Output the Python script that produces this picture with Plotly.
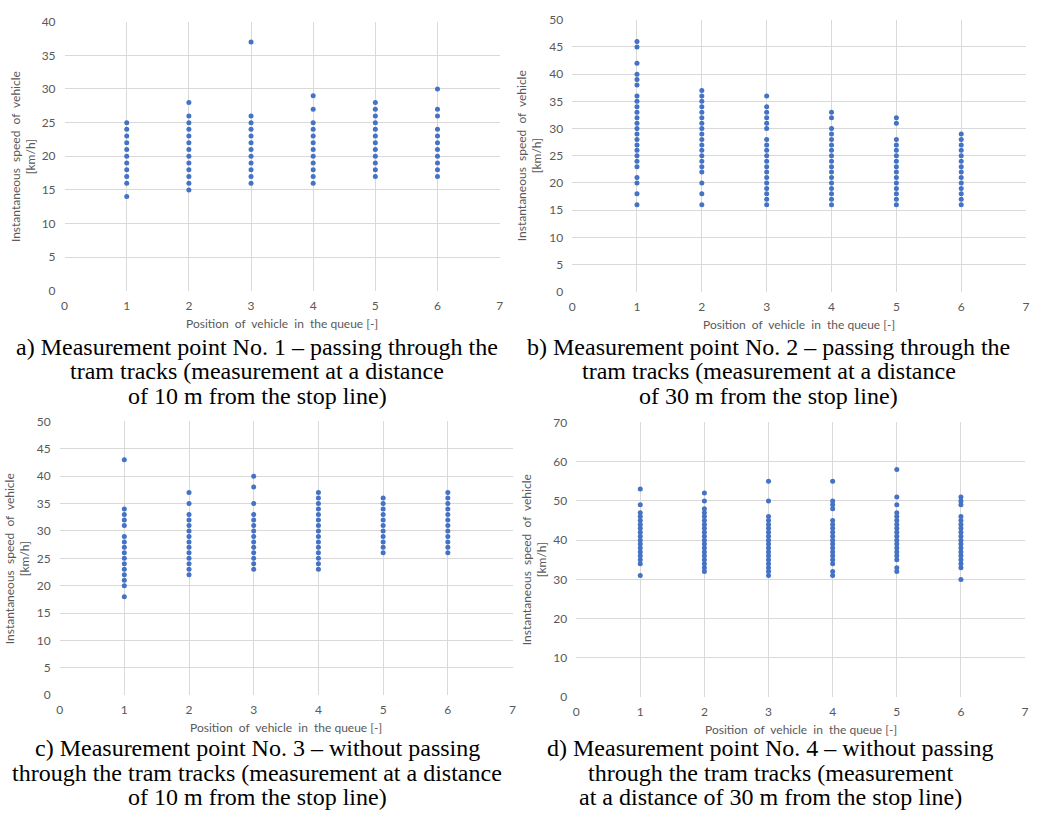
import plotly.graph_objects as go

# Instantaneous speed [km/h] by position of vehicle in the queue (1..6)
positions = [1, 2, 3, 4, 5, 6]

speeds_mp1 = [
    [14, 16, 17, 18, 19, 20, 21, 22, 23, 24, 25],
    [15, 16, 17, 18, 19, 20, 21, 22, 23, 24, 25, 26, 28],
    [16, 17, 18, 19, 20, 21, 22, 23, 24, 25, 26, 37],
    [16, 17, 18, 19, 20, 21, 22, 23, 24, 25, 27, 29],
    [17, 18, 19, 20, 21, 22, 23, 24, 25, 26, 27, 28],
    [17, 18, 19, 20, 21, 22, 23, 24, 26, 27, 30],
]

speeds_mp2 = [
    [16, 18, 20, 21, 23, 24, 25, 26, 27, 28, 29, 30, 31, 32, 33, 34, 35, 36, 38, 39, 40, 42, 45, 46],
    [16, 18, 20, 22, 23, 24, 25, 26, 27, 28, 29, 30, 31, 32, 33, 34, 35, 36, 37],
    [16, 17, 18, 19, 20, 21, 22, 23, 24, 25, 26, 27, 28, 30, 31, 32, 33, 34, 36],
    [16, 17, 18, 19, 20, 21, 22, 23, 24, 25, 26, 27, 28, 29, 30, 32, 33],
    [16, 17, 18, 19, 20, 21, 22, 23, 24, 25, 26, 27, 28, 31, 32],
    [16, 17, 18, 19, 20, 21, 22, 23, 24, 25, 26, 27, 28, 29],
]

speeds_mp3 = [
    [18, 20, 21, 22, 23, 24, 25, 26, 27, 28, 29, 31, 32, 33, 34, 43],
    [22, 23, 24, 25, 26, 27, 28, 29, 30, 31, 32, 33, 35, 37],
    [23, 24, 25, 26, 27, 28, 29, 30, 31, 32, 33, 35, 38, 40],
    [23, 24, 25, 26, 27, 28, 29, 30, 31, 32, 33, 34, 35, 36, 37],
    [26, 27, 28, 29, 30, 31, 32, 33, 34, 35, 36],
    [26, 27, 28, 29, 30, 31, 32, 33, 34, 35, 36, 37],
]

speeds_mp4 = [
    [31, 34, 35, 36, 37, 38, 39, 40, 41, 42, 43, 44, 45, 46, 47, 49, 53],
    [32, 33, 34, 35, 36, 37, 38, 39, 40, 41, 42, 43, 44, 45, 46, 47, 48, 50, 52],
    [31, 32, 33, 34, 35, 36, 37, 38, 39, 40, 41, 42, 43, 44, 45, 46, 50, 55],
    [31, 32, 34, 35, 36, 37, 38, 39, 40, 41, 42, 43, 44, 45, 48, 49, 50, 55],
    [32, 33, 35, 36, 37, 38, 39, 40, 41, 42, 43, 44, 45, 46, 47, 49, 51, 58],
    [30, 33, 34, 35, 36, 37, 38, 39, 40, 41, 42, 43, 44, 45, 46, 49, 50, 51],
]

y_maxima = [40, 50, 50, 70]
y_steps = [5, 5, 5, 10]

captions = [
    ["a) Measurement point No. 1 \u2013 passing through the",
     "tram tracks (measurement at a distance",
     "of 10 m from the stop line)"],
    ["b) Measurement point No. 2 \u2013 passing through the",
     "tram tracks (measurement at a distance",
     "of 30 m from the stop line)"],
    ["c) Measurement point No. 3 \u2013 without passing",
     "through the tram tracks (measurement at a distance",
     "of 10 m from the stop line)"],
    ["d) Measurement point No. 4 \u2013 without passing",
     "through the tram tracks (measurement",
     "at a distance of 30 m from the stop line)"],
]

x_title = "Position\u00a0 of\u00a0 vehicle\u00a0 in\u00a0 the queue [-]"
y_title = "Instantaneous\u00a0 speed\u00a0 of\u00a0 vehicle<br>[km/h]"

# ---- layout geometry (pixels) ----
W, H = 1039, 825
# plot areas: left, right, top, bottom
boxes = [
    (62, 500, 14, 288),
    (573, 1030, 12, 289),
    (57, 513, 421, 700),
    (577, 1029, 422, 702),
]
y_title_x = [20, 530, 14, 535]
caption_center_x = [256, 771, 256, 773]
caption_rows = [[345, 370, 395], [345, 370, 395], [754, 779, 804], [754, 779, 804]]

GRID = "#d9d9d9"
TEXT = "#595959"
BLUE = "#4472C4"
SANS = "Lato, 'Open Sans', sans-serif"
SERIF = "'Liberation Serif', 'Times New Roman', serif"


def px_x(px):
    return px / W


def px_y(py):
    return 1 - py / H


fig = go.Figure()
annotations = []

for i, series in enumerate([speeds_mp1, speeds_mp2, speeds_mp3, speeds_mp4]):
    n = i + 1
    xs, ys = [], []
    for pos, vals in zip(positions, series):
        xs.extend([pos] * len(vals))
        ys.extend(vals)
    xa = "x" if n == 1 else f"x{n}"
    ya = "y" if n == 1 else f"y{n}"
    fig.add_trace(go.Scatter(
        x=xs, y=ys, mode="markers", xaxis=xa, yaxis=ya,
        marker=dict(color=BLUE, size=5, line=dict(width=0)),
        showlegend=False, hoverinfo="x+y",
    ))

    left, right, top, bottom = boxes[i]
    xkey = "xaxis" if n == 1 else f"xaxis{n}"
    ykey = "yaxis" if n == 1 else f"yaxis{n}"
    fig.layout[xkey] = dict(
        domain=[px_x(left), px_x(right)], anchor=ya,
        range=[0, 7], dtick=1, tick0=0,
        showgrid=True, gridcolor=GRID, gridwidth=1,
        zeroline=False, showline=False, ticks="",
        tickfont=dict(family=SANS, size=12, color=TEXT),
        ticklabelstandoff=6,
    )
    fig.layout[ykey] = dict(
        domain=[px_y(bottom), px_y(top)], anchor=xa,
        range=[0, y_maxima[i]], dtick=y_steps[i], tick0=0,
        showgrid=True, gridcolor=GRID, gridwidth=1,
        zeroline=False, showline=False, ticks="",
        tickfont=dict(family=SANS, size=12, color=TEXT),
        ticklabelstandoff=8,
    )

    # axis titles
    annotations.append(dict(
        x=px_x((left + right) / 2), y=px_y(bottom + 33), xref="paper", yref="paper",
        text=x_title, showarrow=False, xanchor="center", yanchor="middle",
        font=dict(family=SANS, size=12, color=TEXT),
    ))
    annotations.append(dict(
        x=px_x(y_title_x[i]), y=px_y((top + bottom) / 2), xref="paper", yref="paper",
        text=y_title, showarrow=False, textangle=-90, xanchor="center", yanchor="middle",
        font=dict(family=SANS, size=12, color=TEXT),
    ))

    # caption beneath the panel
    for line, row in zip(captions[i], caption_rows[i]):
        annotations.append(dict(
            x=px_x(caption_center_x[i]), y=px_y(row), xref="paper", yref="paper",
            text=line, showarrow=False, xanchor="center", yanchor="middle",
            font=dict(family=SERIF, size=24, color="black"),
        ))

fig.update_layout(
    width=W, height=H,
    margin=dict(l=0, r=0, t=0, b=0),
    paper_bgcolor="white", plot_bgcolor="white",
    annotations=annotations,
    showlegend=False,
)

fig.write_html("out.html", config={"displayModeBar": False})
